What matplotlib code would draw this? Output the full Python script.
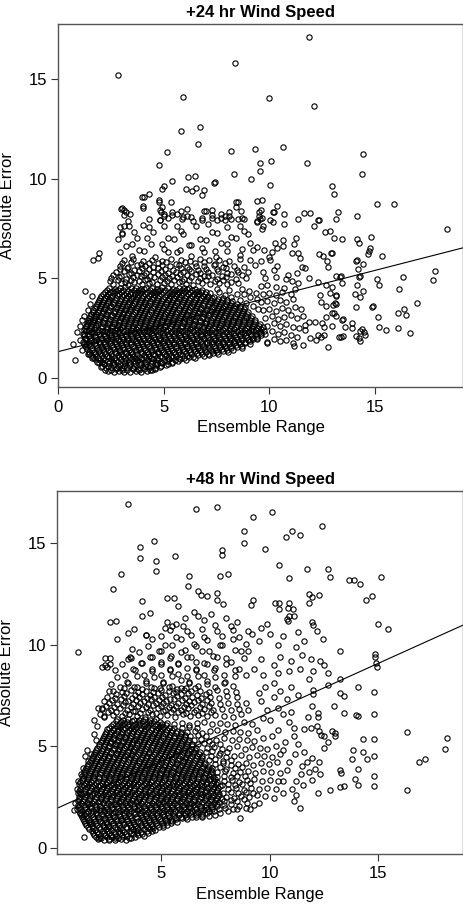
import numpy as np
import matplotlib.pyplot as plt

plt.rcParams['font.family'] = ['Liberation Sans', 'DejaVu Sans']
plt.rcParams['font.size'] = 12

# ---- +24 hr panel: (ensemble range, absolute error) pairs ----
core24 = [
 2.35,0.32, 2.62,0.28, 2.88,0.35, 3.12,0.30, 3.41,0.27, 3.66,0.33, 3.93,0.29, 4.21,0.34, 4.45,0.38,
 2.02,0.52, 2.27,0.48, 2.51,0.55, 2.76,0.50, 3.01,0.47, 3.27,0.53, 3.52,0.51, 3.78,0.46, 4.03,0.54, 4.30,0.50, 4.56,0.48, 4.82,0.55,
 1.92,0.72, 2.15,0.68, 2.40,0.74, 2.64,0.70, 2.90,0.66, 3.15,0.73, 3.39,0.69, 3.65,0.75, 3.90,0.71, 4.16,0.67, 4.41,0.72, 4.67,0.70, 4.93,0.74, 5.18,0.68, 5.40,0.73,
 1.72,0.93, 1.97,0.88, 2.22,0.91, 2.47,0.94, 2.71,0.87, 2.97,0.92, 3.22,0.90, 3.47,0.95, 3.72,0.89, 3.98,0.92, 4.23,0.88, 4.49,0.94, 4.74,0.91, 5.00,0.87, 5.25,0.93, 5.51,0.90, 5.77,0.95, 6.03,0.89,
 1.55,1.12, 1.80,1.07, 2.05,1.13, 2.30,1.09, 2.55,1.11, 2.80,1.14, 3.05,1.08, 3.30,1.12, 3.55,1.10, 3.80,1.06, 4.06,1.13, 4.31,1.09, 4.57,1.12, 4.82,1.07, 5.08,1.14, 5.33,1.10, 5.59,1.08, 5.85,1.13, 6.10,1.11, 6.36,1.06, 6.62,1.12, 6.88,1.09, 7.12,1.14,
 1.43,1.31, 1.68,1.28, 1.93,1.33, 2.18,1.29, 2.43,1.32, 2.68,1.27, 2.93,1.34, 3.18,1.30, 3.43,1.28, 3.68,1.33, 3.93,1.31, 4.19,1.27, 4.44,1.33, 4.70,1.30, 4.95,1.29, 5.21,1.34, 5.46,1.31, 5.72,1.27, 5.97,1.32, 6.23,1.30, 6.49,1.34, 6.75,1.28, 7.01,1.31, 7.27,1.33, 7.53,1.29, 7.79,1.32, 8.05,1.30,
 1.32,1.52, 1.57,1.48, 1.82,1.51, 2.07,1.54, 2.32,1.49, 2.57,1.52, 2.82,1.47, 3.07,1.53, 3.32,1.50, 3.57,1.48, 3.82,1.54, 4.07,1.51, 4.32,1.47, 4.57,1.52, 4.82,1.50, 5.08,1.53, 5.34,1.48, 5.59,1.51, 5.85,1.54, 6.11,1.49, 6.37,1.52, 6.63,1.47, 6.89,1.53, 7.15,1.50, 7.41,1.48, 7.67,1.54, 7.93,1.51, 8.19,1.49, 8.45,1.53, 8.70,1.50,
 1.21,1.71, 1.46,1.68, 1.71,1.73, 1.96,1.70, 2.21,1.67, 2.46,1.72, 2.71,1.69, 2.96,1.74, 3.21,1.70, 3.46,1.68, 3.71,1.73, 3.96,1.71, 4.21,1.67, 4.46,1.72, 4.72,1.69, 4.97,1.74, 5.23,1.70, 5.48,1.68, 5.74,1.72, 6.00,1.69, 6.26,1.73, 6.52,1.70, 6.78,1.67, 7.04,1.72, 7.30,1.70, 7.56,1.74, 7.82,1.68, 8.08,1.71, 8.34,1.73, 8.60,1.69, 8.86,1.72, 9.10,1.70,
 1.30,1.92, 1.55,1.88, 1.80,1.91, 2.05,1.94, 2.30,1.89, 2.55,1.92, 2.80,1.87, 3.05,1.93, 3.30,1.90, 3.55,1.88, 3.80,1.94, 4.05,1.91, 4.30,1.87, 4.56,1.92, 4.81,1.90, 5.07,1.93, 5.32,1.88, 5.58,1.91, 5.84,1.94, 6.10,1.89, 6.36,1.92, 6.62,1.87, 6.88,1.93, 7.14,1.90, 7.40,1.88, 7.66,1.94, 7.92,1.91, 8.18,1.89, 8.44,1.93, 8.70,1.90, 8.96,1.88, 9.22,1.92, 9.40,1.95,
 1.22,2.11, 1.47,2.08, 1.72,2.13, 1.97,2.10, 2.22,2.07, 2.47,2.12, 2.72,2.09, 2.97,2.14, 3.22,2.10, 3.47,2.08, 3.72,2.13, 3.97,2.11, 4.22,2.07, 4.47,2.12, 4.73,2.09, 4.98,2.14, 5.24,2.10, 5.49,2.08, 5.75,2.12, 6.01,2.09, 6.27,2.13, 6.53,2.10, 6.79,2.07, 7.05,2.12, 7.31,2.10, 7.57,2.14, 7.83,2.08, 8.09,2.11, 8.35,2.13, 8.61,2.09, 8.87,2.12, 9.13,2.10, 9.39,2.08, 9.60,2.13,
 1.31,2.32, 1.56,2.28, 1.81,2.31, 2.06,2.34, 2.31,2.29, 2.56,2.32, 2.81,2.27, 3.06,2.33, 3.31,2.30, 3.56,2.28, 3.81,2.34, 4.06,2.31, 4.31,2.27, 4.57,2.32, 4.82,2.30, 5.08,2.33, 5.33,2.28, 5.59,2.31, 5.85,2.34, 6.11,2.29, 6.37,2.32, 6.63,2.27, 6.89,2.33, 7.15,2.30, 7.41,2.28, 7.67,2.34, 7.93,2.31, 8.19,2.29, 8.45,2.33, 8.71,2.30, 8.97,2.28, 9.23,2.32, 9.49,2.30, 9.75,2.34,
 1.28,2.51, 1.53,2.48, 1.78,2.53, 2.03,2.50, 2.28,2.47, 2.53,2.52, 2.78,2.49, 3.03,2.54, 3.28,2.50, 3.53,2.48, 3.78,2.53, 4.03,2.51, 4.28,2.47, 4.53,2.52, 4.79,2.49, 5.04,2.54, 5.30,2.50, 5.55,2.48, 5.81,2.52, 6.07,2.49, 6.33,2.53, 6.59,2.50, 6.85,2.47, 7.11,2.52, 7.37,2.50, 7.63,2.54, 7.89,2.48, 8.15,2.51, 8.41,2.53, 8.67,2.49, 8.93,2.52, 9.19,2.50, 9.45,2.48, 9.70,2.53,
 1.36,2.72, 1.61,2.68, 1.86,2.71, 2.11,2.74, 2.36,2.69, 2.61,2.72, 2.86,2.67, 3.11,2.73, 3.36,2.70, 3.61,2.68, 3.86,2.74, 4.11,2.71, 4.36,2.67, 4.62,2.72, 4.87,2.70, 5.13,2.73, 5.38,2.68, 5.64,2.71, 5.90,2.74, 6.16,2.69, 6.42,2.72, 6.68,2.67, 6.94,2.73, 7.20,2.70, 7.46,2.68, 7.72,2.74, 7.98,2.71, 8.24,2.69, 8.50,2.73, 8.76,2.70, 9.02,2.68, 9.28,2.72, 9.55,2.70,
 1.42,2.91, 1.67,2.88, 1.92,2.93, 2.17,2.90, 2.42,2.87, 2.67,2.92, 2.92,2.89, 3.17,2.94, 3.42,2.90, 3.67,2.88, 3.92,2.93, 4.17,2.91, 4.42,2.87, 4.67,2.92, 4.93,2.89, 5.18,2.94, 5.44,2.90, 5.69,2.88, 5.95,2.92, 6.21,2.89, 6.47,2.93, 6.73,2.90, 6.99,2.87, 7.25,2.92, 7.51,2.90, 7.77,2.94, 8.03,2.88, 8.29,2.91, 8.55,2.93, 8.81,2.89, 9.07,2.92, 9.33,2.90,
 1.51,3.12, 1.76,3.08, 2.01,3.11, 2.26,3.14, 2.51,3.09, 2.76,3.12, 3.01,3.07, 3.26,3.13, 3.51,3.10, 3.76,3.08, 4.01,3.14, 4.26,3.11, 4.51,3.07, 4.77,3.12, 5.02,3.10, 5.28,3.13, 5.53,3.08, 5.79,3.11, 6.05,3.14, 6.31,3.09, 6.57,3.12, 6.83,3.07, 7.09,3.13, 7.35,3.10, 7.61,3.08, 7.87,3.14, 8.13,3.11, 8.39,3.09, 8.65,3.13, 8.91,3.10, 9.17,3.08,
 1.62,3.31, 1.87,3.28, 2.12,3.33, 2.37,3.30, 2.62,3.27, 2.87,3.32, 3.12,3.29, 3.37,3.34, 3.62,3.30, 3.87,3.28, 4.12,3.33, 4.37,3.31, 4.62,3.27, 4.87,3.32, 5.13,3.29, 5.38,3.34, 5.64,3.30, 5.89,3.28, 6.15,3.32, 6.41,3.29, 6.67,3.33, 6.93,3.30, 7.19,3.27, 7.45,3.32, 7.71,3.30, 7.97,3.34, 8.23,3.28, 8.49,3.31, 8.75,3.33, 9.00,3.29,
 1.71,3.52, 1.96,3.48, 2.21,3.51, 2.46,3.54, 2.71,3.49, 2.96,3.52, 3.21,3.47, 3.46,3.53, 3.71,3.50, 3.96,3.48, 4.21,3.54, 4.46,3.51, 4.71,3.47, 4.97,3.52, 5.22,3.50, 5.48,3.53, 5.73,3.48, 5.99,3.51, 6.25,3.54, 6.51,3.49, 6.77,3.52, 7.03,3.47, 7.29,3.53, 7.55,3.50, 7.81,3.48, 8.07,3.54, 8.33,3.51, 8.59,3.49, 8.82,3.53,
 1.83,3.71, 2.08,3.68, 2.33,3.73, 2.58,3.70, 2.83,3.67, 3.08,3.72, 3.33,3.69, 3.58,3.74, 3.83,3.70, 4.08,3.68, 4.33,3.73, 4.58,3.71, 4.83,3.67, 5.09,3.72, 5.34,3.69, 5.60,3.74, 5.85,3.70, 6.11,3.68, 6.37,3.72, 6.63,3.69, 6.89,3.73, 7.15,3.70, 7.41,3.67, 7.67,3.72, 7.93,3.70, 8.19,3.74, 8.45,3.68,
 1.92,3.91, 2.17,3.88, 2.42,3.93, 2.67,3.90, 2.92,3.87, 3.17,3.92, 3.42,3.89, 3.67,3.94, 3.92,3.90, 4.17,3.88, 4.42,3.93, 4.67,3.91, 4.92,3.87, 5.18,3.92, 5.43,3.89, 5.69,3.94, 5.94,3.90, 6.20,3.88, 6.46,3.92, 6.72,3.89, 6.98,3.93, 7.24,3.90, 7.50,3.87, 7.76,3.92, 8.00,3.90,
 2.03,4.12, 2.28,4.08, 2.53,4.11, 2.78,4.14, 3.03,4.09, 3.28,4.12, 3.53,4.07, 3.78,4.13, 4.03,4.10, 4.28,4.08, 4.53,4.14, 4.78,4.11, 5.04,4.07, 5.29,4.12, 5.55,4.10, 5.80,4.13, 6.06,4.08, 6.32,4.11, 6.58,4.14, 6.84,4.09, 7.10,4.12, 7.36,4.07,
 2.21,4.31, 2.46,4.28, 2.71,4.33, 2.96,4.30, 3.21,4.27, 3.46,4.32, 3.71,4.29, 3.96,4.34, 4.21,4.30, 4.46,4.28, 4.71,4.33, 4.97,4.31, 5.22,4.27, 5.48,4.32, 5.73,4.29, 5.99,4.34, 6.25,4.30, 6.51,4.28, 6.77,4.32, 7.00,4.29,
 2.42,4.52, 2.67,4.48, 2.92,4.51, 3.17,4.54, 3.42,4.49, 3.67,4.52, 3.92,4.47, 4.17,4.53, 4.42,4.50, 4.67,4.48, 4.93,4.54, 5.18,4.51, 5.44,4.47, 5.69,4.52, 5.95,4.50, 6.21,4.53, 6.47,4.48,
]
# second pass over the black core, between the rows above
core24b = [
 2.22,0.41, 2.49,0.38, 2.75,0.43, 3.00,0.40, 3.26,0.37, 3.53,0.42, 3.80,0.39, 4.07,0.44, 4.33,0.40, 4.60,0.42,
 2.08,0.61, 2.33,0.58, 2.58,0.63, 2.83,0.60, 3.09,0.57, 3.34,0.62, 3.59,0.59, 3.85,0.64, 4.10,0.60, 4.36,0.58, 4.62,0.63, 4.88,0.60, 5.10,0.62,
 1.83,0.81, 2.08,0.78, 2.34,0.83, 2.59,0.80, 2.84,0.77, 3.10,0.82, 3.35,0.79, 3.60,0.84, 3.86,0.80, 4.11,0.78, 4.37,0.83, 4.62,0.81, 4.88,0.77, 5.13,0.82, 5.39,0.79, 5.65,0.83,
 1.62,1.02, 1.87,0.98, 2.12,1.01, 2.38,1.04, 2.63,0.99, 2.88,1.02, 3.14,0.97, 3.39,1.03, 3.64,1.00, 3.90,0.98, 4.15,1.04, 4.41,1.01, 4.66,0.97, 4.92,1.02, 5.17,1.00, 5.43,1.03, 5.69,0.98, 5.95,1.01, 6.21,1.04, 6.47,0.99,
 1.47,1.21, 1.72,1.18, 1.97,1.23, 2.22,1.20, 2.47,1.17, 2.72,1.22, 2.97,1.19, 3.22,1.24, 3.47,1.20, 3.72,1.18, 3.97,1.23, 4.23,1.21, 4.48,1.17, 4.74,1.22, 4.99,1.19, 5.25,1.24, 5.51,1.20, 5.77,1.18, 6.03,1.22, 6.29,1.19, 6.55,1.23, 6.81,1.20, 7.07,1.17, 7.33,1.22, 7.58,1.20,
 1.36,1.42, 1.61,1.38, 1.86,1.41, 2.11,1.44, 2.36,1.39, 2.61,1.42, 2.86,1.37, 3.11,1.43, 3.36,1.40, 3.61,1.38, 3.86,1.44, 4.11,1.41, 4.37,1.37, 4.62,1.42, 4.88,1.40, 5.14,1.43, 5.40,1.38, 5.66,1.41, 5.92,1.44, 6.18,1.39, 6.44,1.42, 6.70,1.37, 6.96,1.43, 7.22,1.40, 7.48,1.38, 7.74,1.44, 8.00,1.41, 8.26,1.39,
 1.27,1.61, 1.52,1.58, 1.77,1.63, 2.02,1.60, 2.27,1.57, 2.52,1.62, 2.77,1.59, 3.02,1.64, 3.27,1.60, 3.52,1.58, 3.77,1.63, 4.02,1.61, 4.28,1.57, 4.53,1.62, 4.79,1.59, 5.04,1.64, 5.30,1.60, 5.56,1.58, 5.82,1.62, 6.08,1.59, 6.34,1.63, 6.60,1.60, 6.86,1.57, 7.12,1.62, 7.38,1.60, 7.64,1.64, 7.90,1.58, 8.16,1.61, 8.42,1.63, 8.68,1.59,
 1.18,1.81, 1.43,1.78, 1.68,1.83, 1.93,1.80, 2.18,1.77, 2.43,1.82, 2.68,1.79, 2.93,1.84, 3.18,1.80, 3.43,1.78, 3.68,1.83, 3.93,1.81, 4.18,1.77, 4.44,1.82, 4.69,1.80, 4.95,1.83, 5.20,1.78, 5.46,1.81, 5.72,1.84, 5.98,1.79, 6.24,1.82, 6.50,1.77, 6.76,1.83, 7.02,1.80, 7.28,1.78, 7.54,1.84, 7.80,1.81, 8.06,1.79, 8.32,1.83, 8.58,1.80, 8.84,1.78, 9.10,1.82,
 1.25,2.01, 1.50,1.98, 1.75,2.03, 2.00,2.00, 2.25,1.97, 2.50,2.02, 2.75,1.99, 3.00,2.04, 3.25,2.00, 3.50,1.98, 3.75,2.03, 4.00,2.01, 4.26,1.97, 4.51,2.02, 4.77,1.99, 5.02,2.04, 5.28,2.00, 5.54,1.98, 5.80,2.02, 6.06,1.99, 6.32,2.03, 6.58,2.00, 6.84,1.97, 7.10,2.02, 7.36,2.00, 7.62,2.04, 7.88,1.98, 8.14,2.01, 8.40,2.03, 8.66,1.99, 8.92,2.02, 9.18,2.00, 9.42,1.98,
 1.18,2.21, 1.43,2.18, 1.68,2.23, 1.93,2.20, 2.18,2.17, 2.43,2.22, 2.68,2.19, 2.93,2.24, 3.18,2.20, 3.43,2.18, 3.68,2.23, 3.93,2.21, 4.19,2.17, 4.44,2.22, 4.70,2.19, 4.95,2.24, 5.21,2.20, 5.47,2.18, 5.73,2.22, 5.99,2.19, 6.25,2.23, 6.51,2.20, 6.77,2.17, 7.03,2.22, 7.29,2.20, 7.55,2.24, 7.81,2.18, 8.07,2.21, 8.33,2.23, 8.59,2.19, 8.85,2.22, 9.11,2.20, 9.37,2.18, 9.62,2.23,
 1.19,2.41, 1.44,2.38, 1.69,2.43, 1.94,2.40, 2.19,2.37, 2.44,2.42, 2.69,2.39, 2.94,2.44, 3.19,2.40, 3.44,2.38, 3.69,2.43, 3.94,2.41, 4.19,2.37, 4.45,2.42, 4.70,2.39, 4.96,2.44, 5.21,2.40, 5.47,2.38, 5.73,2.42, 5.99,2.39, 6.25,2.43, 6.51,2.40, 6.77,2.37, 7.03,2.42, 7.29,2.40, 7.55,2.44, 7.81,2.38, 8.07,2.41, 8.33,2.43, 8.59,2.39, 8.85,2.42, 9.11,2.40, 9.37,2.38, 9.62,2.43,
 1.30,2.61, 1.55,2.58, 1.80,2.63, 2.05,2.60, 2.30,2.57, 2.55,2.62, 2.80,2.59, 3.05,2.64, 3.30,2.60, 3.55,2.58, 3.80,2.63, 4.05,2.61, 4.31,2.57, 4.56,2.62, 4.82,2.59, 5.07,2.64, 5.33,2.60, 5.59,2.58, 5.85,2.62, 6.11,2.59, 6.37,2.63, 6.63,2.60, 6.89,2.57, 7.15,2.62, 7.41,2.60, 7.67,2.64, 7.93,2.58, 8.19,2.61, 8.45,2.63, 8.71,2.59, 8.97,2.62, 9.23,2.60, 9.49,2.58,
 1.38,2.81, 1.63,2.78, 1.88,2.83, 2.13,2.80, 2.38,2.77, 2.63,2.82, 2.88,2.79, 3.13,2.84, 3.38,2.80, 3.63,2.78, 3.88,2.83, 4.13,2.81, 4.39,2.77, 4.64,2.82, 4.90,2.79, 5.15,2.84, 5.41,2.80, 5.67,2.78, 5.93,2.82, 6.19,2.79, 6.45,2.83, 6.71,2.80, 6.97,2.77, 7.23,2.82, 7.49,2.80, 7.75,2.84, 8.01,2.78, 8.27,2.81, 8.53,2.83, 8.79,2.79, 9.05,2.82, 9.31,2.80,
 1.46,3.01, 1.71,2.98, 1.96,3.03, 2.21,3.00, 2.46,2.97, 2.71,3.02, 2.96,2.99, 3.21,3.04, 3.46,3.00, 3.71,2.98, 3.96,3.03, 4.21,3.01, 4.47,2.97, 4.72,3.02, 4.98,2.99, 5.23,3.04, 5.49,3.00, 5.75,2.98, 6.01,3.02, 6.27,2.99, 6.53,3.03, 6.79,3.00, 7.05,2.97, 7.31,3.02, 7.57,3.00, 7.83,3.04, 8.09,2.98, 8.35,3.01, 8.61,3.03, 8.87,2.99, 9.13,3.02,
 1.55,3.21, 1.80,3.18, 2.05,3.23, 2.30,3.20, 2.55,3.17, 2.80,3.22, 3.05,3.19, 3.30,3.24, 3.55,3.20, 3.80,3.18, 4.05,3.23, 4.30,3.21, 4.56,3.17, 4.81,3.22, 5.07,3.19, 5.32,3.24, 5.58,3.20, 5.84,3.18, 6.10,3.22, 6.36,3.19, 6.62,3.23, 6.88,3.20, 7.14,3.17, 7.40,3.22, 7.66,3.20, 7.92,3.24, 8.18,3.18, 8.44,3.21, 8.70,3.23, 8.95,3.19,
 1.66,3.41, 1.91,3.38, 2.16,3.43, 2.41,3.40, 2.66,3.37, 2.91,3.42, 3.16,3.39, 3.41,3.44, 3.66,3.40, 3.91,3.38, 4.16,3.43, 4.41,3.41, 4.67,3.37, 4.92,3.42, 5.18,3.39, 5.43,3.44, 5.69,3.40, 5.95,3.38, 6.21,3.42, 6.47,3.39, 6.73,3.43, 6.99,3.40, 7.25,3.37, 7.51,3.42, 7.77,3.40, 8.03,3.44, 8.29,3.38, 8.55,3.41, 8.78,3.43,
 1.76,3.61, 2.01,3.58, 2.26,3.63, 2.51,3.60, 2.76,3.57, 3.01,3.62, 3.26,3.59, 3.51,3.64, 3.76,3.60, 4.01,3.58, 4.26,3.63, 4.51,3.61, 4.77,3.57, 5.02,3.62, 5.28,3.59, 5.53,3.64, 5.79,3.60, 6.05,3.58, 6.31,3.62, 6.57,3.59, 6.83,3.63, 7.09,3.60, 7.35,3.57, 7.61,3.62, 7.87,3.60, 8.13,3.64, 8.39,3.58, 8.60,3.61,
 1.86,3.81, 2.11,3.78, 2.36,3.83, 2.61,3.80, 2.86,3.77, 3.11,3.82, 3.36,3.79, 3.61,3.84, 3.86,3.80, 4.11,3.78, 4.36,3.83, 4.61,3.81, 4.87,3.77, 5.12,3.82, 5.38,3.79, 5.63,3.84, 5.89,3.80, 6.15,3.78, 6.41,3.82, 6.67,3.79, 6.93,3.83, 7.19,3.80, 7.45,3.77, 7.71,3.82, 7.97,3.80, 8.23,3.84,
 1.96,4.01, 2.21,3.98, 2.46,4.03, 2.71,4.00, 2.96,3.97, 3.21,4.02, 3.46,3.99, 3.71,4.04, 3.96,4.00, 4.21,3.98, 4.46,4.03, 4.71,4.01, 4.97,3.97, 5.22,4.02, 5.48,3.99, 5.73,4.04, 5.99,4.00, 6.25,3.98, 6.51,4.02, 6.77,3.99, 7.03,4.03, 7.29,4.00, 7.55,3.97, 7.78,4.02,
 2.12,4.21, 2.37,4.18, 2.62,4.23, 2.87,4.20, 3.12,4.17, 3.37,4.22, 3.62,4.19, 3.87,4.24, 4.12,4.20, 4.37,4.18, 4.62,4.23, 4.87,4.21, 5.13,4.17, 5.38,4.22, 5.64,4.19, 5.89,4.24, 6.15,4.20, 6.41,4.18, 6.67,4.22, 6.93,4.19, 7.19,4.23,
 2.32,4.41, 2.57,4.38, 2.82,4.43, 3.07,4.40, 3.32,4.37, 3.57,4.42, 3.82,4.39, 4.07,4.44, 4.32,4.40, 4.57,4.38, 4.82,4.43, 5.07,4.41, 5.33,4.37, 5.58,4.42, 5.84,4.39, 6.09,4.44, 6.35,4.40, 6.61,4.38, 6.80,4.43,
]
# band just above the black core, where it fades out
edge24 = [
 2.45,4.86, 2.8,4.9, 3.15,4.83, 3.45,4.92, 3.8,4.85, 4.1,4.9, 4.45,4.82, 4.8,4.91, 5.15,4.86, 5.5,4.93, 5.85,4.84, 6.2,4.9, 6.6,4.85, 7.0,4.92, 7.4,4.86, 7.8,4.9, 8.2,4.83,
 2.6,5.17, 2.95,5.12, 3.35,5.2, 3.7,5.14, 4.05,5.18, 4.35,5.11, 4.7,5.2, 5.05,5.15, 5.4,5.12, 5.75,5.19, 6.1,5.14, 6.5,5.2, 6.9,5.13, 7.3,5.18, 7.75,5.12, 8.2,5.2, 8.7,5.15,
 2.9,5.46, 3.25,5.5, 3.6,5.43, 3.95,5.49, 4.3,5.44, 4.7,5.5, 5.05,5.45, 5.45,5.42, 5.8,5.5, 6.2,5.46, 6.6,5.41, 7.0,5.48, 7.5,5.45, 7.95,5.5, 8.45,5.43,
 3.0,5.77, 3.45,5.8, 3.9,5.73, 4.3,5.78, 4.7,5.74, 5.1,5.8, 5.55,5.72, 6.0,5.79, 6.45,5.75, 6.9,5.8, 7.4,5.73, 7.9,5.78,
 8.6,3.9, 8.9,3.75, 9.2,3.6, 9.45,3.45, 8.8,4.2, 9.1,4.05, 9.4,3.95, 8.7,4.45, 9.05,4.35, 9.35,4.25,
 7.6,4.3, 7.9,4.15, 8.2,4.05, 8.45,4.2, 7.5,4.45, 8.1,4.4,
]
mid24 = [
 2.6,4.7, 2.95,4.75, 3.3,4.68, 3.6,4.8, 3.95,4.72, 4.3,4.78, 4.65,4.7, 5.0,4.76, 5.35,4.69, 5.7,4.8, 6.05,4.73, 6.4,4.66, 6.8,4.75, 7.2,4.7, 7.6,4.78, 8.0,4.71, 8.5,4.74,
 2.5,5.02, 2.85,5.06, 3.2,4.98, 3.55,5.05, 3.9,5.1, 4.2,4.96, 4.55,5.04, 4.9,5.08, 5.25,4.99, 5.6,5.05, 5.95,4.97, 6.3,5.07, 6.7,5.01, 7.1,5.09, 7.5,4.98, 7.95,5.05, 8.4,4.97, 8.9,5.03,
 2.75,5.3, 3.1,5.36, 3.45,5.28, 3.8,5.34, 4.15,5.25, 4.5,5.32, 4.85,5.38, 5.2,5.27, 5.55,5.33, 5.9,5.29, 6.3,5.37, 6.7,5.26, 7.1,5.31, 7.55,5.35, 8.0,5.28, 8.5,5.33, 9.0,5.3,
 2.9,5.62, 3.3,5.58, 3.7,5.66, 4.1,5.6, 4.5,5.55, 4.9,5.64, 5.3,5.59, 5.7,5.67, 6.1,5.57, 6.5,5.63, 6.9,5.6, 7.35,5.66, 7.8,5.58, 8.3,5.62, 8.8,5.57, 9.3,5.65,
 3.1,5.9, 3.55,5.95, 4.0,5.88, 4.45,5.93, 4.9,5.86, 5.35,5.96, 5.8,5.9, 6.25,5.87, 6.7,5.95, 7.15,5.89, 7.6,5.93, 8.1,5.86, 8.6,5.94, 9.1,5.9, 9.6,5.88,
 2.9,6.32, 3.5,6.12, 4.05,6.38, 4.6,6.08, 5.2,6.29, 5.75,6.41, 6.3,6.1, 6.9,6.33, 7.45,6.06, 8.0,6.36, 8.6,6.14, 9.2,6.4,
 3.2,6.62, 3.8,6.44, 4.4,6.71, 5.0,6.49, 5.6,6.33, 6.2,6.66, 6.8,6.52, 7.4,6.36, 8.0,6.7, 8.7,6.47, 9.4,6.59,
 2.8,6.95, 3.5,6.74, 4.2,7.0, 4.9,6.72, 5.5,6.97, 6.3,6.69, 7.0,6.91, 7.7,6.75, 8.4,7.02, 9.1,6.79,
 3.0,7.25, 3.7,7.0, 4.5,7.3, 5.2,7.04, 5.9,7.22, 6.7,6.98, 7.5,7.28, 8.2,7.05, 9.0,7.2,
 2.9,7.58, 3.6,7.33, 4.3,7.55, 5.0,7.62, 5.8,7.35, 6.5,7.6, 7.3,7.3, 8.0,7.56, 8.8,7.38,
 3.3,7.85, 4.0,7.66, 4.8,7.9, 5.6,7.64, 6.4,7.88, 7.1,7.7, 7.9,7.92, 8.6,7.62, 9.4,7.86,
 3.1,8.18, 4.3,7.95, 5.0,8.21, 5.9,8.06, 6.8,7.93, 7.3,8.16, 8.1,8.12, 8.8,7.97, 9.5,8.12,
 3.0,8.52, 3.4,8.22, 4.0,8.62, 4.8,8.44, 5.4,8.18, 6.1,8.48, 6.9,8.4, 7.7,8.2, 8.4,8.56, 9.6,8.42,
]
right24 = [
 9.9,1.8, 10.2,1.95, 10.5,1.85, 10.8,1.9, 11.1,1.75, 9.8,2.2, 10.1,2.35, 10.4,2.2, 10.7,2.3, 11.0,2.15, 11.3,2.05,
 9.9,2.6, 10.2,2.75, 10.5,2.6, 10.8,2.7, 11.1,2.55, 11.4,2.5, 9.8,3.0, 10.1,3.1, 10.4,2.95, 10.7,3.05, 11.0,3.15,
 11.3,3.0, 11.6,3.1, 9.7,3.4, 10.0,3.45, 10.3,3.35, 10.6,3.5, 10.9,3.4, 11.2,3.55, 11.5,3.45, 9.6,3.8, 9.9,3.85,
 10.2,3.75, 10.5,3.9, 10.8,3.8, 11.1,3.95, 9.7,4.2, 10.0,4.25, 10.3,4.15, 10.6,4.3, 11.0,4.2, 9.6,4.6, 9.9,4.65,
 10.3,4.55, 10.7,4.5, 11.2,4.45, 9.8,5.0, 10.3,5.05, 10.8,4.95, 9.7,5.3, 10.2,5.4,
]
sparse24 = [
 2.81,15.19, 8.38,15.83, 11.85,17.1, 5.92,14.12, 9.97,14.04, 12.13,13.64, 5.79,12.41, 6.69,12.61, 6.63,11.74,
 8.19,11.39, 9.31,11.51, 10.62,11.61, 5.14,11.33, 9.55,10.8, 10.08,10.89, 9.53,10.4, 11.77,10.8, 14.42,11.26,
 14.37,10.25, 4.75,10.67, 8.34,10.24, 9.12,9.97, 10.03,9.7, 12.97,9.65, 13.08,9.25, 5.4,9.87, 6.12,10.07,
 6.48,10.12, 7.38,9.78, 7.4,9.83, 4.98,9.63, 4.92,9.48, 6.06,9.47, 6.33,9.37, 6.53,9.55, 6.91,9.43, 6.81,9.16,
 4.27,9.25, 3.94,9.08, 4.07,9.1, 15.08,8.71, 15.92,8.74, 8.41,8.84, 9.42,8.86, 9.67,8.91, 5.33,8.83, 4.76,8.91,
 14.14,8.13, 11.66,8.26, 11.93,8.26,
 18.42,7.46, 14.14,6.95, 14.25,6.75, 14.81,7.09, 14.75,6.5, 14.7,6.35, 14.68,6.2, 15.33,6.11, 14.1,5.88,
 14.13,5.9, 14.42,5.7, 14.21,5.48, 14.3,5.11, 14.22,5.06, 15.11,4.94, 15.2,4.64, 16.33,5.05, 17.84,5.38,
 17.73,4.91, 16.12,4.44, 16.97,3.77, 16.39,3.47, 16.45,3.16, 16.07,3.23, 16.64,2.26, 16.07,2.5, 15.52,2.4,
 15.2,2.56, 15.13,3.07, 14.85,3.57, 14.9,3.62, 14.43,4.37, 14.29,4.07, 14.07,4.19, 14.14,4.66, 14.1,3.54,
 13.93,2.73, 14.4,2.45, 14.5,2.3, 14.55,2.15, 14.3,2.35, 14.26,1.98, 14.1,2.1, 14.29,1.86, 13.9,2.5, 13.57,2.56,
 13.5,2.96, 13.3,2.03, 13.4,2.02, 13.5,2.1, 13.17,3.1, 13.13,3.69, 13.11,3.73, 13.15,4.14, 13.13,5.13,
 13.33,5.05, 13.4,5.11, 13.43,4.78, 13.24,8.34, 13.16,7.96, 13.08,7.0, 13.43,6.96, 12.92,6.28, 12.65,7.34,
 12.87,7.36, 12.32,7.92, 12.36,7.9, 12.13,7.62, 11.37,7.96, 12.79,1.56, 13.05,3.27, 13.46,2.9,
 12.29,4.82, 12.67,4.66, 12.95,4.55, 13.17,4.11, 12.85,4.25, 12.4,4.15, 12.45,3.82, 12.7,3.6, 13.0,3.65,
 12.95,3.23, 12.67,3.07, 12.6,2.57, 12.98,2.6, 12.5,2.75, 12.3,2.15, 12.45,2.05, 12.6,2.15, 11.9,1.98,
 11.69,2.4, 11.69,2.65, 11.85,2.8, 12.15,2.8, 12.2,1.9,
 12.37,6.22, 12.56,6.1, 12.72,5.87, 12.77,5.57, 12.95,6.24, 11.69,5.49, 11.56,5.57, 11.3,5.24, 10.9,5.15,
 11.08,4.87, 11.37,4.74, 11.85,5.0, 10.35,5.6, 9.96,6.08, 9.72,6.41, 10.03,5.91, 10.35,6.5, 10.12,6.33,
 10.27,6.79, 10.62,6.93, 10.62,6.63, 11.27,7.01, 11.14,6.74, 11.06,6.27, 11.35,6.24, 11.46,6.0, 10.35,8.63,
 10.71,8.23, 10.15,8.32, 9.64,8.01, 10.22,8.34, 10.03,7.93, 10.19,7.84, 9.64,7.47, 10.67,7.72, 11.17,1.59,
 11.58,1.64, 9.88,1.73,
 0.7,1.7, 0.8,0.9, 0.9,2.3, 1.0,2.6, 1.0,1.9, 1.1,2.9, 1.1,1.4, 1.2,2.2, 1.2,3.1, 1.28,4.37, 1.3,1.7,
 1.3,2.6, 1.4,3.4, 1.4,1.2, 1.5,2.8, 1.5,3.7, 1.6,2.3, 1.6,4.1, 1.6,1.0, 1.7,3.1, 1.64,5.91, 1.88,5.99, 1.9,6.25,
 2.98,8.5, 3.1,8.45, 3.2,8.3, 3.36,7.6, 3.1,7.6, 3.0,7.2, 4.01,8.55, 4.75,8.85, 4.85,8.3, 5.0,8.1, 5.2,8.0,
 4.8,7.9, 4.9,8.6, 5.4,8.3, 5.8,8.35, 5.6,8.2, 5.85,7.95, 6.1,8.1, 6.3,8.05, 6.8,8.0, 7.0,8.4, 7.3,8.45,
 7.3,8.0, 7.5,7.9, 7.7,8.0, 7.9,8.1, 8.1,8.3, 8.2,7.95, 8.5,7.95, 8.7,8.0, 8.5,8.84, 8.65,8.35, 9.4,7.8,
 9.55,7.95, 9.7,7.6, 9.5,8.3,
]

# ---- +48 hr panel ----
core48 = [
 2.12,0.42, 2.38,0.37, 2.63,0.44, 2.89,0.36, 3.14,0.41, 3.40,0.38, 3.62,0.45,
 1.93,0.62, 2.18,0.58, 2.43,0.64, 2.68,0.60, 2.94,0.57, 3.19,0.63, 3.44,0.59, 3.70,0.65, 3.95,0.61, 4.20,0.58,
 1.82,0.81, 2.07,0.78, 2.32,0.83, 2.57,0.80, 2.82,0.77, 3.07,0.82, 3.32,0.79, 3.57,0.84, 3.83,0.80, 4.08,0.78, 4.34,0.83, 4.60,0.81,
 1.63,1.02, 1.88,0.98, 2.13,1.01, 2.38,1.04, 2.63,0.99, 2.88,1.02, 3.13,0.97, 3.38,1.03, 3.63,1.00, 3.88,0.98, 4.14,1.04, 4.39,1.01, 4.65,0.97, 4.91,1.02, 5.10,1.00,
 1.52,1.21, 1.77,1.18, 2.02,1.23, 2.27,1.20, 2.52,1.17, 2.77,1.22, 3.02,1.19, 3.27,1.24, 3.52,1.20, 3.77,1.18, 4.02,1.23, 4.28,1.21, 4.53,1.17, 4.79,1.22, 5.04,1.19, 5.30,1.24, 5.45,1.20,
 1.42,1.42, 1.67,1.38, 1.92,1.41, 2.17,1.44, 2.42,1.39, 2.67,1.42, 2.92,1.37, 3.17,1.43, 3.42,1.40, 3.67,1.38, 3.92,1.44, 4.17,1.41, 4.43,1.37, 4.68,1.42, 4.94,1.40, 5.19,1.43, 5.45,1.38, 5.70,1.41, 5.96,1.44, 6.20,1.39,
 1.31,1.61, 1.56,1.58, 1.81,1.63, 2.06,1.60, 2.31,1.57, 2.56,1.62, 2.81,1.59, 3.06,1.64, 3.31,1.60, 3.56,1.58, 3.81,1.63, 4.06,1.61, 4.32,1.57, 4.57,1.62, 4.83,1.59, 5.08,1.64, 5.34,1.60, 5.59,1.58, 5.85,1.62, 6.11,1.59, 6.37,1.63, 6.63,1.60, 6.90,1.57,
 1.38,1.82, 1.63,1.78, 1.88,1.81, 2.13,1.84, 2.38,1.79, 2.63,1.82, 2.88,1.77, 3.13,1.83, 3.38,1.80, 3.63,1.78, 3.88,1.84, 4.13,1.81, 4.39,1.77, 4.64,1.82, 4.90,1.80, 5.15,1.83, 5.41,1.78, 5.66,1.81, 5.92,1.84, 6.18,1.79, 6.44,1.82, 6.70,1.77, 6.96,1.83, 7.22,1.80, 7.45,1.78,
 1.24,2.01, 1.49,1.98, 1.74,2.03, 1.99,2.00, 2.24,1.97, 2.49,2.02, 2.74,1.99, 2.99,2.04, 3.24,2.00, 3.49,1.98, 3.74,2.03, 3.99,2.01, 4.25,1.97, 4.50,2.02, 4.76,1.99, 5.01,2.04, 5.27,2.00, 5.52,1.98, 5.78,2.02, 6.04,1.99, 6.30,2.03, 6.56,2.00, 6.82,1.97, 7.08,2.02, 7.34,2.00, 7.60,2.04,
 1.33,2.22, 1.58,2.18, 1.83,2.21, 2.08,2.24, 2.33,2.19, 2.58,2.22, 2.83,2.17, 3.08,2.23, 3.33,2.20, 3.58,2.18, 3.83,2.24, 4.08,2.21, 4.34,2.17, 4.59,2.22, 4.85,2.20, 5.10,2.23, 5.36,2.18, 5.61,2.21, 5.87,2.24, 6.13,2.19, 6.39,2.22, 6.65,2.17, 6.91,2.23, 7.17,2.20, 7.43,2.18, 7.68,2.23,
 1.22,2.41, 1.47,2.38, 1.72,2.43, 1.97,2.40, 2.22,2.37, 2.47,2.42, 2.72,2.39, 2.97,2.44, 3.22,2.40, 3.47,2.38, 3.72,2.43, 3.97,2.41, 4.23,2.37, 4.48,2.42, 4.74,2.39, 4.99,2.44, 5.25,2.40, 5.50,2.38, 5.76,2.42, 6.02,2.39, 6.28,2.43, 6.54,2.40, 6.80,2.37, 7.06,2.42, 7.32,2.40, 7.58,2.44, 7.80,2.38,
 1.31,2.62, 1.56,2.58, 1.81,2.61, 2.06,2.64, 2.31,2.59, 2.56,2.62, 2.81,2.57, 3.06,2.63, 3.31,2.60, 3.56,2.58, 3.81,2.64, 4.06,2.61, 4.32,2.57, 4.57,2.62, 4.83,2.60, 5.08,2.63, 5.34,2.58, 5.59,2.61, 5.85,2.64, 6.11,2.59, 6.37,2.62, 6.63,2.57, 6.89,2.63, 7.15,2.60, 7.41,2.58, 7.67,2.64,
 1.24,2.81, 1.49,2.78, 1.74,2.83, 1.99,2.80, 2.24,2.77, 2.49,2.82, 2.74,2.79, 2.99,2.84, 3.24,2.80, 3.49,2.78, 3.74,2.83, 3.99,2.81, 4.25,2.77, 4.50,2.82, 4.76,2.79, 5.01,2.84, 5.27,2.80, 5.52,2.78, 5.78,2.82, 6.04,2.79, 6.30,2.83, 6.56,2.80, 6.82,2.77, 7.08,2.82, 7.34,2.80, 7.60,2.84,
 1.33,3.02, 1.58,2.98, 1.83,3.01, 2.08,3.04, 2.33,2.99, 2.58,3.02, 2.83,2.97, 3.08,3.03, 3.33,3.00, 3.58,2.98, 3.83,3.04, 4.08,3.01, 4.34,2.97, 4.59,3.02, 4.85,3.00, 5.10,3.03, 5.36,2.98, 5.61,3.01, 5.87,3.04, 6.13,2.99, 6.39,3.02, 6.65,2.97, 6.91,3.03, 7.17,3.00, 7.43,2.98, 7.70,3.03,
 1.28,3.21, 1.53,3.18, 1.78,3.23, 2.03,3.20, 2.28,3.17, 2.53,3.22, 2.78,3.19, 3.03,3.24, 3.28,3.20, 3.53,3.18, 3.78,3.23, 4.03,3.21, 4.29,3.17, 4.54,3.22, 4.80,3.19, 5.05,3.24, 5.31,3.20, 5.56,3.18, 5.82,3.22, 6.08,3.19, 6.34,3.23, 6.60,3.20, 6.86,3.17, 7.12,3.22, 7.38,3.20, 7.60,3.24,
 1.40,3.42, 1.65,3.38, 1.90,3.41, 2.15,3.44, 2.40,3.39, 2.65,3.42, 2.90,3.37, 3.15,3.43, 3.40,3.40, 3.65,3.38, 3.90,3.44, 4.15,3.41, 4.41,3.37, 4.66,3.42, 4.92,3.40, 5.17,3.43, 5.43,3.38, 5.68,3.41, 5.94,3.44, 6.20,3.39, 6.46,3.42, 6.72,3.37, 6.98,3.43, 7.24,3.40, 7.50,3.38,
 1.45,3.61, 1.70,3.58, 1.95,3.63, 2.20,3.60, 2.45,3.57, 2.70,3.62, 2.95,3.59, 3.20,3.64, 3.45,3.60, 3.70,3.58, 3.95,3.63, 4.20,3.61, 4.46,3.57, 4.71,3.62, 4.97,3.59, 5.22,3.64, 5.48,3.60, 5.73,3.58, 5.99,3.62, 6.25,3.59, 6.51,3.63, 6.77,3.60, 7.03,3.57, 7.29,3.62,
 1.52,3.82, 1.77,3.78, 2.02,3.81, 2.27,3.84, 2.52,3.79, 2.77,3.82, 3.02,3.77, 3.27,3.83, 3.52,3.80, 3.77,3.78, 4.02,3.84, 4.27,3.81, 4.53,3.77, 4.78,3.82, 5.04,3.80, 5.29,3.83, 5.55,3.78, 5.80,3.81, 6.06,3.84, 6.32,3.79, 6.58,3.82, 6.84,3.77, 7.10,3.83, 7.30,3.80,
 1.61,4.01, 1.86,3.98, 2.11,4.03, 2.36,4.00, 2.61,3.97, 2.86,4.02, 3.11,3.99, 3.36,4.04, 3.61,4.00, 3.86,3.98, 4.11,4.03, 4.36,4.01, 4.62,3.97, 4.87,4.02, 5.13,3.99, 5.38,4.04, 5.64,4.00, 5.89,3.98, 6.15,4.02, 6.41,3.99, 6.67,4.03, 6.93,4.00, 7.19,3.97,
 1.72,4.22, 1.97,4.18, 2.22,4.21, 2.47,4.24, 2.72,4.19, 2.97,4.22, 3.22,4.17, 3.47,4.23, 3.72,4.20, 3.97,4.18, 4.22,4.24, 4.47,4.21, 4.73,4.17, 4.98,4.22, 5.24,4.20, 5.49,4.23, 5.75,4.18, 6.00,4.21, 6.26,4.24, 6.52,4.19, 6.78,4.22, 7.02,4.17,
 1.81,4.41, 2.06,4.38, 2.31,4.43, 2.56,4.40, 2.81,4.37, 3.06,4.42, 3.31,4.39, 3.56,4.44, 3.81,4.40, 4.06,4.38, 4.31,4.43, 4.56,4.41, 4.82,4.37, 5.07,4.42, 5.33,4.39, 5.58,4.44, 5.84,4.40, 6.09,4.38, 6.35,4.42, 6.61,4.39, 6.87,4.43,
 1.93,4.62, 2.18,4.58, 2.43,4.61, 2.68,4.64, 2.93,4.59, 3.18,4.62, 3.43,4.57, 3.68,4.63, 3.93,4.60, 4.18,4.58, 4.43,4.64, 4.68,4.61, 4.94,4.57, 5.19,4.62, 5.45,4.60, 5.70,4.63, 5.96,4.58, 6.22,4.61, 6.48,4.64, 6.74,4.59,
 2.02,4.81, 2.27,4.78, 2.52,4.83, 2.77,4.80, 3.02,4.77, 3.27,4.82, 3.52,4.79, 3.77,4.84, 4.02,4.80, 4.27,4.78, 4.52,4.83, 4.77,4.81, 5.03,4.77, 5.28,4.82, 5.54,4.79, 5.79,4.84, 6.05,4.80, 6.31,4.78, 6.57,4.82,
 2.13,5.02, 2.38,4.98, 2.63,5.01, 2.88,5.04, 3.13,4.99, 3.38,5.02, 3.63,4.97, 3.88,5.03, 4.13,5.00, 4.38,4.98, 4.63,5.04, 4.88,5.01, 5.14,4.97, 5.39,5.02, 5.65,5.00, 5.90,5.03, 6.16,4.98, 6.42,5.01,
 2.22,5.21, 2.47,5.18, 2.72,5.23, 2.97,5.20, 3.22,5.17, 3.47,5.22, 3.72,5.19, 3.97,5.24, 4.22,5.20, 4.47,5.18, 4.72,5.23, 4.97,5.21, 5.23,5.17, 5.48,5.22, 5.74,5.19, 5.99,5.24, 6.25,5.20,
 2.33,5.42, 2.58,5.38, 2.83,5.41, 3.08,5.44, 3.33,5.39, 3.58,5.42, 3.83,5.37, 4.08,5.43, 4.33,5.40, 4.58,5.38, 4.83,5.44, 5.08,5.41, 5.34,5.37, 5.59,5.42, 5.85,5.40, 6.10,5.43,
 2.41,5.61, 2.66,5.58, 2.91,5.63, 3.16,5.60, 3.41,5.57, 3.66,5.62, 3.91,5.59, 4.16,5.64, 4.41,5.60, 4.66,5.58, 4.91,5.63, 5.17,5.61, 5.42,5.57, 5.68,5.62, 5.93,5.59,
 2.52,5.82, 2.77,5.78, 3.02,5.81, 3.27,5.84, 3.52,5.79, 3.77,5.82, 4.02,5.77, 4.27,5.83, 4.52,5.80, 4.77,5.78, 5.02,5.84, 5.28,5.81, 5.53,5.77,
 2.72,6.01, 2.97,5.98, 3.22,6.03, 3.47,6.00, 3.72,5.97, 3.97,6.02, 4.22,5.99, 4.47,6.04, 4.72,6.00, 4.97,5.98, 5.23,6.03,
 2.93,6.22, 3.18,6.18, 3.43,6.21, 3.68,6.24, 3.93,6.19, 4.18,6.22, 4.43,6.17, 4.68,6.23, 4.94,6.20,
]
core48b = [
 2.00,0.52, 2.25,0.48, 2.51,0.53, 2.76,0.50, 3.02,0.47, 3.27,0.52, 3.53,0.49, 3.80,0.54,
 1.86,0.71, 2.11,0.68, 2.37,0.73, 2.62,0.70, 2.88,0.67, 3.13,0.72, 3.39,0.69, 3.64,0.74, 3.90,0.70, 4.15,0.68, 4.40,0.72,
 1.71,0.91, 1.96,0.88, 2.21,0.93, 2.46,0.90, 2.71,0.87, 2.96,0.92, 3.21,0.89, 3.46,0.94, 3.71,0.90, 3.96,0.88, 4.22,0.93, 4.48,0.91, 4.74,0.88,
 1.56,1.11, 1.81,1.08, 2.06,1.13, 2.31,1.10, 2.56,1.07, 2.81,1.12, 3.06,1.09, 3.31,1.14, 3.56,1.10, 3.81,1.08, 4.06,1.13, 4.32,1.11, 4.57,1.07, 4.83,1.12, 5.08,1.09, 5.30,1.13,
 1.46,1.31, 1.71,1.28, 1.96,1.33, 2.21,1.30, 2.46,1.27, 2.71,1.32, 2.96,1.29, 3.21,1.34, 3.46,1.30, 3.71,1.28, 3.96,1.33, 4.21,1.31, 4.47,1.27, 4.72,1.32, 4.98,1.29, 5.23,1.34, 5.49,1.30, 5.75,1.28,
 1.36,1.51, 1.61,1.48, 1.86,1.53, 2.11,1.50, 2.36,1.47, 2.61,1.52, 2.86,1.49, 3.11,1.54, 3.36,1.50, 3.61,1.48, 3.86,1.53, 4.11,1.51, 4.37,1.47, 4.62,1.52, 4.88,1.49, 5.13,1.54, 5.39,1.50, 5.65,1.48, 5.91,1.52, 6.17,1.49, 6.43,1.53, 6.62,1.50,
 1.28,1.71, 1.53,1.68, 1.78,1.73, 2.03,1.70, 2.28,1.67, 2.53,1.72, 2.78,1.69, 3.03,1.74, 3.28,1.70, 3.53,1.68, 3.78,1.73, 4.03,1.71, 4.29,1.67, 4.54,1.72, 4.80,1.69, 5.05,1.74, 5.31,1.70, 5.57,1.68, 5.83,1.72, 6.09,1.69, 6.35,1.73, 6.61,1.70, 6.87,1.67, 7.13,1.72,
 1.26,1.91, 1.51,1.88, 1.76,1.93, 2.01,1.90, 2.26,1.87, 2.51,1.92, 2.76,1.89, 3.01,1.94, 3.26,1.90, 3.51,1.88, 3.76,1.93, 4.01,1.91, 4.27,1.87, 4.52,1.92, 4.78,1.89, 5.03,1.94, 5.29,1.90, 5.55,1.88, 5.81,1.92, 6.07,1.89, 6.33,1.93, 6.59,1.90, 6.85,1.87, 7.11,1.92, 7.37,1.90,
 1.20,2.11, 1.45,2.08, 1.70,2.13, 1.95,2.10, 2.20,2.07, 2.45,2.12, 2.70,2.09, 2.95,2.14, 3.20,2.10, 3.45,2.08, 3.70,2.13, 3.95,2.11, 4.21,2.07, 4.46,2.12, 4.72,2.09, 4.97,2.14, 5.23,2.10, 5.49,2.08, 5.75,2.12, 6.01,2.09, 6.27,2.13, 6.53,2.10, 6.79,2.07, 7.05,2.12, 7.31,2.10, 7.56,2.14,
 1.18,2.31, 1.43,2.28, 1.68,2.33, 1.93,2.30, 2.18,2.27, 2.43,2.32, 2.68,2.29, 2.93,2.34, 3.18,2.30, 3.43,2.28, 3.68,2.33, 3.93,2.31, 4.19,2.27, 4.44,2.32, 4.70,2.29, 4.95,2.34, 5.21,2.30, 5.47,2.28, 5.73,2.32, 5.99,2.29, 6.25,2.33, 6.51,2.30, 6.77,2.27, 7.03,2.32, 7.29,2.30, 7.55,2.34,
 1.24,2.51, 1.49,2.48, 1.74,2.53, 1.99,2.50, 2.24,2.47, 2.49,2.52, 2.74,2.49, 2.99,2.54, 3.24,2.50, 3.49,2.48, 3.74,2.53, 3.99,2.51, 4.25,2.47, 4.50,2.52, 4.76,2.49, 5.01,2.54, 5.27,2.50, 5.53,2.48, 5.79,2.52, 6.05,2.49, 6.31,2.53, 6.57,2.50, 6.83,2.47, 7.09,2.52, 7.35,2.50, 7.61,2.54,
 1.19,2.71, 1.44,2.68, 1.69,2.73, 1.94,2.70, 2.19,2.67, 2.44,2.72, 2.69,2.69, 2.94,2.74, 3.19,2.70, 3.44,2.68, 3.69,2.73, 3.94,2.71, 4.20,2.67, 4.45,2.72, 4.71,2.69, 4.96,2.74, 5.22,2.70, 5.48,2.68, 5.74,2.72, 6.00,2.69, 6.26,2.73, 6.52,2.70, 6.78,2.67, 7.04,2.72, 7.30,2.70, 7.56,2.74,
 1.27,2.91, 1.52,2.88, 1.77,2.93, 2.02,2.90, 2.27,2.87, 2.52,2.92, 2.77,2.89, 3.02,2.94, 3.27,2.90, 3.52,2.88, 3.77,2.93, 4.02,2.91, 4.28,2.87, 4.53,2.92, 4.79,2.89, 5.04,2.94, 5.30,2.90, 5.56,2.88, 5.82,2.92, 6.08,2.89, 6.34,2.93, 6.60,2.90, 6.86,2.87, 7.12,2.92, 7.38,2.90, 7.62,2.94,
 1.21,3.11, 1.46,3.08, 1.71,3.13, 1.96,3.10, 2.21,3.07, 2.46,3.12, 2.71,3.09, 2.96,3.14, 3.21,3.10, 3.46,3.08, 3.71,3.13, 3.96,3.11, 4.22,3.07, 4.47,3.12, 4.73,3.09, 4.98,3.14, 5.24,3.10, 5.50,3.08, 5.76,3.12, 6.02,3.09, 6.28,3.13, 6.54,3.10, 6.80,3.07, 7.06,3.12, 7.32,3.10, 7.55,3.14,
 1.35,3.31, 1.60,3.28, 1.85,3.33, 2.10,3.30, 2.35,3.27, 2.60,3.32, 2.85,3.29, 3.10,3.34, 3.35,3.30, 3.60,3.28, 3.85,3.33, 4.10,3.31, 4.36,3.27, 4.61,3.32, 4.87,3.29, 5.12,3.34, 5.38,3.30, 5.64,3.28, 5.90,3.32, 6.16,3.29, 6.42,3.33, 6.68,3.30, 6.94,3.27, 7.20,3.32, 7.44,3.30,
 1.38,3.51, 1.63,3.48, 1.88,3.53, 2.13,3.50, 2.38,3.47, 2.63,3.52, 2.88,3.49, 3.13,3.54, 3.38,3.50, 3.63,3.48, 3.88,3.53, 4.13,3.51, 4.39,3.47, 4.64,3.52, 4.90,3.49, 5.15,3.54, 5.41,3.50, 5.67,3.48, 5.93,3.52, 6.19,3.49, 6.45,3.53, 6.71,3.50, 6.97,3.47, 7.23,3.52, 7.40,3.50,
 1.48,3.71, 1.73,3.68, 1.98,3.73, 2.23,3.70, 2.48,3.67, 2.73,3.72, 2.98,3.69, 3.23,3.74, 3.48,3.70, 3.73,3.68, 3.98,3.73, 4.23,3.71, 4.49,3.67, 4.74,3.72, 5.00,3.69, 5.25,3.74, 5.51,3.70, 5.77,3.68, 6.03,3.72, 6.29,3.69, 6.55,3.73, 6.81,3.70, 7.07,3.67, 7.33,3.72,
 1.56,3.91, 1.81,3.88, 2.06,3.93, 2.31,3.90, 2.56,3.87, 2.81,3.92, 3.06,3.89, 3.31,3.94, 3.56,3.90, 3.81,3.88, 4.06,3.93, 4.31,3.91, 4.57,3.87, 4.82,3.92, 5.08,3.89, 5.33,3.94, 5.59,3.90, 5.85,3.88, 6.11,3.92, 6.37,3.89, 6.63,3.93, 6.89,3.90, 7.15,3.87,
 1.66,4.11, 1.91,4.08, 2.16,4.13, 2.41,4.10, 2.66,4.07, 2.91,4.12, 3.16,4.09, 3.41,4.14, 3.66,4.10, 3.91,4.08, 4.16,4.13, 4.41,4.11, 4.67,4.07, 4.92,4.12, 5.18,4.09, 5.43,4.14, 5.69,4.10, 5.95,4.08, 6.21,4.12, 6.47,4.09, 6.73,4.13, 6.99,4.10,
 1.76,4.31, 2.01,4.28, 2.26,4.33, 2.51,4.30, 2.76,4.27, 3.01,4.32, 3.26,4.29, 3.51,4.34, 3.76,4.30, 4.01,4.28, 4.26,4.33, 4.51,4.31, 4.77,4.27, 5.02,4.32, 5.28,4.29, 5.53,4.34, 5.79,4.30, 6.05,4.28, 6.31,4.32, 6.57,4.29, 6.83,4.33,
 1.86,4.51, 2.11,4.48, 2.36,4.53, 2.61,4.50, 2.86,4.47, 3.11,4.52, 3.36,4.49, 3.61,4.54, 3.86,4.50, 4.11,4.48, 4.36,4.53, 4.61,4.51, 4.87,4.47, 5.12,4.52, 5.38,4.49, 5.63,4.54, 5.89,4.50, 6.15,4.48, 6.41,4.52, 6.67,4.49, 6.90,4.53,
 1.97,4.71, 2.22,4.68, 2.47,4.73, 2.72,4.70, 2.97,4.67, 3.22,4.72, 3.47,4.69, 3.72,4.74, 3.97,4.70, 4.22,4.68, 4.47,4.73, 4.72,4.71, 4.98,4.67, 5.23,4.72, 5.49,4.69, 5.74,4.74, 6.00,4.70, 6.26,4.68, 6.52,4.72, 6.78,4.69,
 2.07,4.91, 2.32,4.88, 2.57,4.93, 2.82,4.90, 3.07,4.87, 3.32,4.92, 3.57,4.89, 3.82,4.94, 4.07,4.90, 4.32,4.88, 4.57,4.93, 4.82,4.91, 5.08,4.87, 5.33,4.92, 5.59,4.89, 5.84,4.94, 6.10,4.90, 6.36,4.88, 6.60,4.92,
 2.17,5.11, 2.42,5.08, 2.67,5.13, 2.92,5.10, 3.17,5.07, 3.42,5.12, 3.67,5.09, 3.92,5.14, 4.17,5.10, 4.42,5.08, 4.67,5.13, 4.92,5.11, 5.18,5.07, 5.43,5.12, 5.69,5.09, 5.94,5.14, 6.20,5.10, 6.45,5.08,
 2.27,5.31, 2.52,5.28, 2.77,5.33, 3.02,5.30, 3.27,5.27, 3.52,5.32, 3.77,5.29, 4.02,5.34, 4.27,5.30, 4.52,5.28, 4.77,5.33, 5.02,5.31, 5.28,5.27, 5.53,5.32, 5.79,5.29, 6.04,5.34, 6.28,5.30,
 2.36,5.51, 2.61,5.48, 2.86,5.53, 3.11,5.50, 3.36,5.47, 3.61,5.52, 3.86,5.49, 4.11,5.54, 4.36,5.50, 4.61,5.48, 4.86,5.53, 5.11,5.51, 5.37,5.47, 5.62,5.52, 5.88,5.49, 6.10,5.53,
 2.46,5.71, 2.71,5.68, 2.96,5.73, 3.21,5.70, 3.46,5.67, 3.71,5.72, 3.96,5.69, 4.21,5.74, 4.46,5.70, 4.71,5.68, 4.96,5.73, 5.21,5.71, 5.47,5.67, 5.72,5.72, 5.90,5.69,
 2.60,5.91, 2.85,5.88, 3.10,5.93, 3.35,5.90, 3.60,5.87, 3.85,5.92, 4.10,5.89, 4.35,5.94, 4.60,5.90, 4.85,5.88, 5.10,5.93, 5.35,5.91, 5.58,5.87,
 2.80,6.11, 3.05,6.08, 3.30,6.13, 3.55,6.10, 3.80,6.07, 4.05,6.12, 4.30,6.09, 4.55,6.14, 4.80,6.10, 5.05,6.08, 5.30,6.12,
 3.00,6.31, 3.25,6.28, 3.50,6.33, 3.75,6.30, 4.00,6.27, 4.25,6.32, 4.50,6.29, 4.75,6.34,
]
edge48 = [
 2.55,6.66, 2.95,6.7, 3.35,6.63, 3.7,6.72, 4.05,6.65, 4.4,6.7, 4.75,6.62, 5.1,6.71, 5.45,6.66, 5.8,6.7, 6.15,6.63, 6.5,6.69, 6.9,6.64, 7.3,6.7,
 2.45,6.97, 2.85,6.92, 3.25,7.0, 3.6,6.94, 3.95,6.98, 4.3,6.91, 4.65,7.0, 5.0,6.95, 5.35,6.92, 5.7,6.99, 6.05,6.94, 6.4,7.0, 6.8,6.93, 7.2,6.98,
 2.75,7.26, 3.15,7.3, 3.5,7.23, 3.85,7.29, 4.2,7.24, 4.55,7.3, 4.9,7.25, 5.25,7.22, 5.6,7.3, 5.95,7.26, 6.3,7.21, 6.7,7.28, 7.1,7.25,
 2.95,7.57, 3.4,7.6, 3.8,7.53, 4.15,7.58, 4.5,7.54, 4.85,7.6, 5.2,7.52, 5.55,7.59, 5.9,7.55, 6.25,7.6, 6.65,7.53, 7.05,7.58,
 3.3,7.86, 3.75,7.9, 4.15,7.83, 4.55,7.89, 4.95,7.84, 5.35,7.9, 5.75,7.82, 6.15,7.88, 6.55,7.84,
 6.9,1.5, 7.2,1.55, 7.5,1.6, 7.65,1.92, 7.95,1.97, 8.3,1.88, 7.9,2.3, 8.2,2.35, 8.5,2.28, 8.8,2.38,
 7.85,2.7, 8.2,2.72, 8.55,2.68, 8.9,2.75, 9.25,2.7, 7.8,3.1, 8.1,3.15, 8.4,3.08, 8.75,3.12, 9.1,3.18,
 7.6,3.5, 7.9,3.55, 8.2,3.48, 8.5,3.52, 8.85,3.55, 7.35,3.9, 7.7,3.95, 8.0,3.88, 8.4,3.92, 8.75,3.95,
 7.2,4.3, 7.5,4.35, 7.85,4.28, 8.2,4.32, 7.05,4.7, 7.35,4.75, 7.7,4.68, 8.05,4.72,
 6.7,5.1, 7.0,5.15, 7.35,5.08, 7.7,5.12, 6.35,5.5, 6.7,5.55, 7.05,5.48, 5.95,5.9, 6.3,5.95, 6.65,5.88,
]
mid48 = [
 2.4,6.5, 2.8,6.55, 3.2,6.46, 3.55,6.58, 3.9,6.5, 4.25,6.44, 4.6,6.56, 4.95,6.48, 5.3,6.53, 5.65,6.45, 6.0,6.57, 6.35,6.49, 6.7,6.52, 7.1,6.46, 7.5,6.55, 7.9,6.5, 8.3,6.44, 8.7,6.56,
 2.3,6.82, 2.7,6.78, 3.1,6.86, 3.45,6.8, 3.8,6.75, 4.15,6.84, 4.5,6.79, 4.85,6.87, 5.2,6.77, 5.55,6.83, 5.9,6.8, 6.25,6.86, 6.6,6.76, 7.0,6.82, 7.4,6.79, 7.8,6.85, 8.2,6.78, 8.6,6.83, 9.0,6.8,
 2.6,7.12, 3.0,7.06, 3.35,7.15, 3.7,7.08, 4.05,7.13, 4.4,7.05, 4.75,7.14, 5.1,7.1, 5.45,7.04, 5.8,7.12, 6.15,7.08, 6.5,7.16, 6.9,7.06, 7.3,7.11, 7.7,7.07, 8.1,7.14, 8.5,7.09, 8.9,7.12,
 2.5,7.42, 2.9,7.36, 3.3,7.45, 3.65,7.38, 4.0,7.44, 4.35,7.35, 4.7,7.43, 5.05,7.4, 5.4,7.34, 5.75,7.46, 6.1,7.39, 6.45,7.42, 6.85,7.36, 7.25,7.44, 7.65,7.38, 8.05,7.45, 8.5,7.4,
 2.8,7.72, 3.2,7.66, 3.6,7.75, 3.95,7.68, 4.3,7.73, 4.65,7.65, 5.0,7.74, 5.35,7.7, 5.7,7.64, 6.05,7.76, 6.4,7.69, 6.8,7.72, 7.2,7.66, 7.6,7.74, 8.0,7.7, 8.45,7.65,
 2.7,8.08, 3.1,7.9, 3.5,8.12, 3.9,7.92, 4.3,8.1, 4.7,7.88, 5.1,8.09, 5.5,7.97, 5.9,7.86, 6.3,8.13, 6.7,7.95, 7.1,8.08, 7.5,7.9, 7.9,8.11, 8.3,7.94,
 3.0,8.42, 3.45,8.18, 3.9,8.45, 4.3,8.2, 4.7,8.4, 5.1,8.16, 5.5,8.44, 5.9,8.27, 6.3,8.14, 6.7,8.46, 7.1,8.22, 7.5,8.41, 7.95,8.17, 8.4,8.43,
 2.9,8.74, 3.35,8.5, 3.8,8.77, 4.2,8.52, 4.6,8.72, 5.0,8.48, 5.4,8.75, 5.8,8.56, 6.2,8.46, 6.6,8.78, 7.0,8.52, 7.45,8.73, 7.9,8.48, 8.4,8.76, 8.9,8.5,
 3.2,9.05, 3.7,8.8, 4.15,9.08, 4.6,8.82, 5.0,9.04, 5.4,8.78, 5.8,9.06, 6.2,8.87, 6.6,8.76, 7.0,9.09, 7.5,8.83, 8.0,9.04, 8.6,8.8,
 3.6,9.35, 4.1,9.1, 4.6,9.38, 5.0,9.12, 5.4,9.34, 5.8,9.08, 6.2,9.37, 6.6,9.16, 7.1,9.06, 7.6,9.39, 8.2,9.12, 8.8,9.33,
 4.0,9.65, 4.5,9.4, 5.0,9.68, 5.45,9.42, 5.9,9.64, 6.4,9.38, 6.9,9.66, 7.4,9.45, 8.0,9.36, 8.7,9.68,
 4.4,9.95, 4.9,9.7, 5.5,9.98, 6.1,9.72, 6.6,9.94, 7.2,9.68, 7.8,9.96, 8.4,9.74, 9.0,9.66,
 4.6,10.25, 5.2,10.0, 5.9,10.28, 6.5,10.02, 7.1,10.24, 7.7,9.98, 8.3,10.26, 8.9,10.04,
 4.3,10.47, 5.0,10.4, 5.7,10.36, 6.4,10.45, 7.0,10.38, 7.8,10.42, 8.6,10.35, 9.2,10.5,
 5.4,10.72, 6.2,10.66, 6.9,10.75, 7.6,10.68, 8.3,10.73, 9.0,10.65,
]
right48 = [
 7.7,1.72, 8.1,1.8, 8.64,1.48, 8.5,1.9, 8.9,1.95,
 7.9,2.1, 8.2,2.15, 8.6,2.05, 8.95,2.2, 9.3,2.12,
 8.0,2.5, 8.35,2.45, 8.7,2.55, 9.05,2.48, 9.4,2.6, 9.8,2.55,
 8.1,2.9, 8.45,2.95, 8.8,2.85, 9.15,2.92, 9.5,2.88, 9.9,2.95, 10.3,2.9,
 7.9,3.3, 8.25,3.35, 8.6,3.25, 8.95,3.32, 9.3,3.38, 9.65,3.28, 10.0,3.35, 10.4,3.3,
 7.6,3.7, 7.95,3.75, 8.3,3.65, 8.65,3.72, 9.0,3.78, 9.35,3.68, 9.7,3.75, 10.05,3.7, 10.5,3.65,
 7.5,4.1, 7.85,4.15, 8.2,4.05, 8.55,4.12, 8.9,4.18, 9.25,4.08, 9.6,4.15, 9.95,4.1, 10.35,4.2,
 7.3,4.5, 7.65,4.55, 8.0,4.45, 8.35,4.52, 8.7,4.58, 9.05,4.48, 9.4,4.55, 9.75,4.5, 10.1,4.45, 10.5,4.6,
 7.1,4.9, 7.45,4.95, 7.8,4.85, 8.15,4.92, 8.5,4.98, 8.85,4.88, 9.2,4.95, 9.55,4.9, 9.9,4.85, 10.3,5.0,
 6.5,5.3, 6.85,5.35, 7.2,5.25, 7.55,5.32, 7.9,5.38, 8.25,5.28, 8.6,5.35, 8.95,5.3, 9.3,5.25, 9.7,5.4,
 6.2,5.7, 6.55,5.75, 6.9,5.65, 7.25,5.72, 7.6,5.78, 7.95,5.68, 8.3,5.75, 8.65,5.7, 9.0,5.65, 9.4,5.8,
 5.6,6.1, 5.95,6.15, 6.3,6.05, 6.65,6.12, 7.0,6.18, 7.35,6.08, 7.7,6.15, 8.05,6.1, 8.4,6.05, 8.8,6.2, 9.2,6.1,
]
sparse48 = [
 3.47,16.91, 6.61,16.68, 7.57,16.76, 9.22,16.28, 10.13,16.53, 12.41,15.82, 8.84,15.58, 8.84,14.99, 11.02,15.58,
 10.75,15.31, 11.4,15.38, 9.8,14.72, 4.69,15.12, 4.04,14.79, 4.04,14.26, 4.75,14.13, 4.78,13.64, 5.65,14.36,
 7.8,14.66, 7.8,14.41, 3.16,13.46, 2.81,12.75, 6.31,13.39, 7.71,13.37, 8.08,13.47, 10.42,13.9, 10.91,13.28,
 11.71,13.74, 12.67,13.7, 12.78,13.33, 13.64,13.17, 13.9,13.2, 14.16,13.0, 15.13,13.33, 14.73,12.41, 14.42,12.21,
 14.99,10.99, 15.45,10.77, 14.86,9.53, 14.9,9.08, 13.23,9.67, 6.24,12.9, 6.7,12.66, 7.11,12.41, 6.82,12.46,
 7.57,12.55, 7.57,12.18, 7.87,11.98, 5.29,12.29, 5.6,12.29, 5.8,11.9, 4.11,12.16, 4.11,11.41, 4.5,11.54,
 2.66,11.1, 2.92,11.18, 2.99,10.25, 3.47,10.58, 3.76,10.76, 3.65,9.78, 3.57,9.37, 3.5,9.29, 4.3,10.47,
 1.17,9.65, 2.42,9.32, 2.27,8.91, 2.42,9.0, 9.25,12.21, 9.14,11.97, 10.42,12.03, 10.42,11.77, 10.9,12.03,
 10.91,11.43, 11.1,11.43, 11.79,12.03, 11.94,12.36, 11.79,12.49, 12.29,12.42, 11.97,11.1, 12.0,10.97,
 12.16,10.69, 12.44,10.28, 10.81,11.24, 10.23,12.06, 10.86,11.78, 11.09,11.74, 10.83,11.16,
 5.3,11.1, 5.5,10.9, 5.2,10.8, 5.7,11.0, 6.0,10.9, 6.1,11.3, 6.5,11.6, 6.7,11.4, 7.0,11.2, 7.3,11.5, 7.5,10.95,
 8.0,11.3, 8.2,10.9, 8.5,11.1, 9.6,10.8, 9.9,11.0, 9.5,10.2, 10.0,10.5, 10.4,10.0, 10.6,10.4, 11.3,10.6,
 11.6,10.2, 11.2,9.9, 11.5,9.5, 11.9,9.3, 12.3,9.2, 11.0,9.2, 10.5,9.4, 10.2,9.0, 9.6,9.3, 9.3,8.8, 9.7,8.5,
 10.4,8.6, 10.9,8.7, 11.4,8.8, 12.0,8.7, 11.8,8.3, 12.5,9.0, 12.7,8.6,
 2.51,8.91, 2.66,9.04, 2.66,9.32, 2.63,7.73, 2.36,7.24, 2.08,6.86, 2.27,6.86, 2.18,6.6, 2.36,6.43, 1.9,6.27,
 2.06,5.99, 1.6,4.79, 1.76,4.62, 1.52,4.5, 1.63,4.26, 1.31,3.63, 1.26,2.68, 1.13,1.89, 1.28,1.69, 1.47,1.61,
 1.74,1.2, 1.44,0.54, 2.13,0.46, 2.44,0.62, 2.59,0.37, 2.9,0.46, 1.05,2.2, 1.0,1.85, 1.15,2.9, 1.2,3.3,
 1.4,3.9, 1.9,5.6, 2.0,5.3,
 18.15,5.42, 18.07,4.87, 16.89,4.23, 17.15,4.38, 16.34,2.83, 16.32,5.71, 14.8,3.03, 14.8,3.55, 14.8,4.5,
 14.8,5.35, 14.8,6.6, 14.8,7.67, 14.85,9.37, 14.93,8.88, 14.3,4.72, 14.46,4.34, 14.05,3.88, 13.93,3.39,
 14.08,3.1, 13.82,4.82, 13.77,4.38, 14.28,5.37, 14.05,7.91, 13.98,6.53, 14.08,6.46, 13.41,6.62, 13.25,3.84,
 13.29,3.67, 13.25,2.98, 13.43,3.03, 13.0,5.5, 13.0,5.65, 12.85,5.72, 12.7,5.2, 12.5,4.9, 12.5,5.5, 12.35,5.55,
 12.25,5.75, 13.25,7.63, 13.41,7.47, 13.22,8.28, 12.94,6.97, 12.68,8.03, 12.78,2.84, 12.24,2.71, 12.3,3.6,
 12.25,4.2, 12.1,3.85, 11.95,4.4, 11.8,3.7, 11.95,3.35, 11.6,4.7, 11.5,4.0, 11.45,3.6, 11.7,4.2, 11.55,3.1,
 11.4,1.97, 11.1,2.3, 11.2,2.6, 11.05,2.9, 11.2,3.3, 12.01,7.76, 12.01,7.55, 11.93,6.97, 12.24,6.64, 12.24,6.41,
 11.78,6.41, 11.9,5.9, 12.2,6.0, 11.6,5.85, 11.1,5.9, 11.1,5.5, 11.3,5.1, 11.15,4.6, 10.9,4.2, 10.8,3.8,
 10.6,3.3, 10.7,5.2, 10.9,6.2, 11.0,6.7, 10.6,6.6, 10.4,6.9, 10.8,7.3, 11.3,7.5, 11.0,7.9, 10.5,7.7, 10.2,7.4,
 10.0,6.3, 10.4,5.8, 10.1,5.5, 10.6,4.8, 10.2,8.1, 9.8,7.9, 9.6,7.2, 9.9,6.8, 9.7,6.4, 9.5,7.6,
 9.1,1.9, 9.5,2.2, 10.2,2.45, 10.6,2.7,
]

# least-squares lines drawn by abline in the original (intercept, slope)
fit24 = (1.31, 0.272)
fit48 = (1.83, 0.483)

panels = [
    ("+24 hr Wind Speed", [core24, core24b, edge24, mid24, right24, sparse24], fit24,
     [0.125, 0.5733, 0.8728, 0.4002], (-0.02, 19.17), (-0.47, 17.77), [0, 5, 10, 15]),
    ("+48 hr Wind Speed", [core48, core48b, edge48, mid48, right48, sparse48], fit48,
     [0.1235, 0.0588, 0.8744, 0.4002], (0.23, 18.9), (-0.3, 17.58), [5, 10, 15]),
]

fig = plt.figure(figsize=(4.64, 9.07), dpi=100)

for title, groups, fit, rect, xl, yl, xt in panels:
    pts = np.concatenate([np.array(g, dtype=float).reshape(-1, 2) for g in groups])
    ax = fig.add_axes(rect)
    ax.plot(pts[:, 0], pts[:, 1], 'o', mfc='none', mec='black', ms=3.8, mew=0.8)
    ax.axline((0, fit[0]), slope=fit[1], color='black', lw=0.8)
    ax.set_xlim(*xl)
    ax.set_ylim(*yl)
    ax.set_xticks(xt)
    ax.set_yticks([0, 5, 10, 15])
    ax.tick_params(direction='out', length=5, width=0.8, color='#333333', labelsize=12)
    ax.tick_params(axis='x', pad=4)
    ax.tick_params(axis='y', pad=3)
    for s in ax.spines.values():
        s.set_color('#555555')
        s.set_linewidth(1.0)
    ax.set_title(title, fontsize=12, fontweight='bold', pad=5)
    ax.set_xlabel("Ensemble Range", fontsize=12)
    ax.set_ylabel("Absolute Error", fontsize=12)
    ax.yaxis.set_label_coords(-0.107, 0.5)

fig.savefig("out.png", dpi=100)
